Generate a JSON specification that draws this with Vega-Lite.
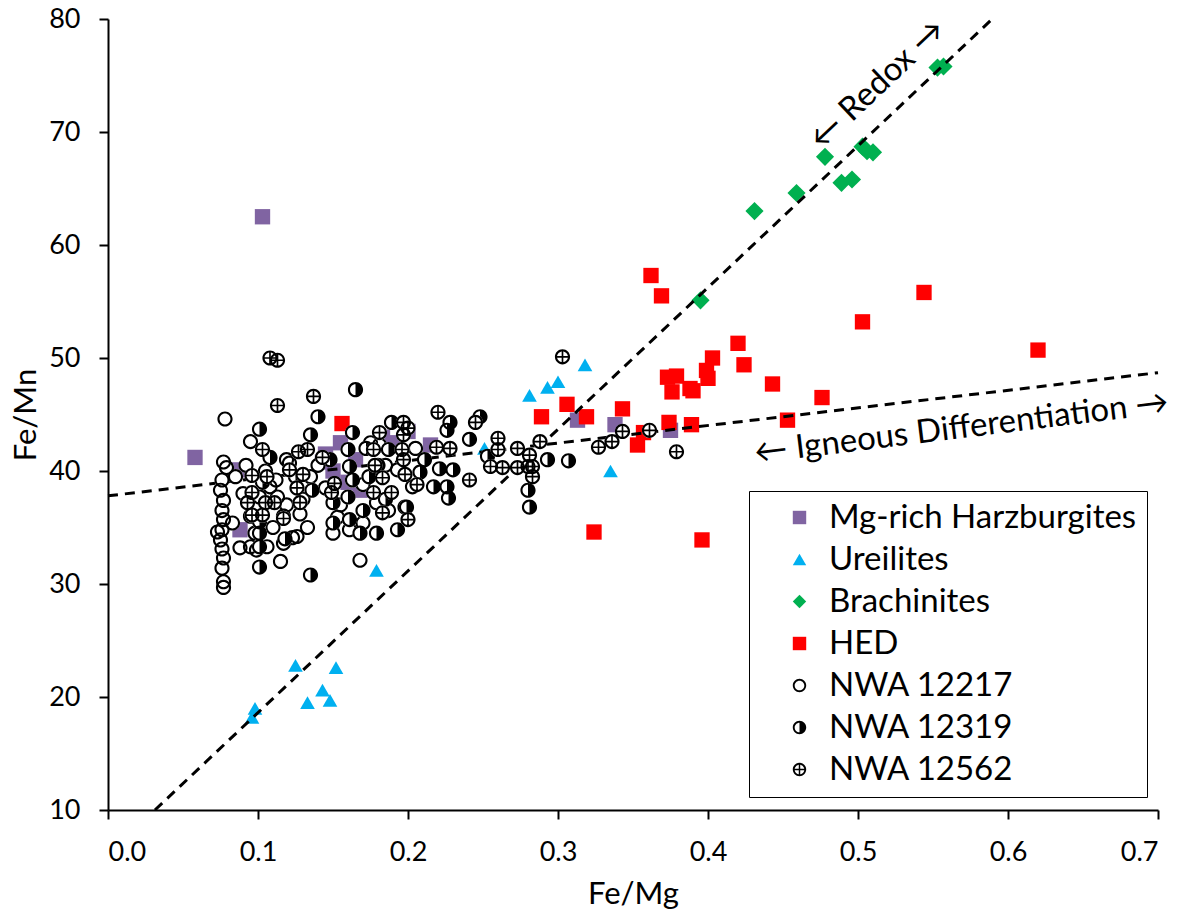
{
  "$schema": "https://vega.github.io/schema/vega-lite/v6.json",
  "width": 1050,
  "height": 791,
  "autosize": {"type": "none"},
  "padding": {"left": 108, "top": 19, "right": 28, "bottom": 108},
  "background": "white",
  "config": {
    "view": {"stroke": null},
    "axis": {
      "grid": false, "domainColor": "black", "domainWidth": 2, "tickColor": "black", "tickWidth": 2, "tickSize": 9,
      "labelFont": "Lato", "labelFontSize": 27, "labelColor": "black",
      "titleFont": "Lato", "titleFontSize": 31, "titleFontWeight": "normal", "titleColor": "black"
    },
    "legend": {
      "labelFont": "Lato", "labelFontSize": 33, "labelColor": "black", "labelLimit": 600, "symbolSize": 180, "symbolStrokeWidth": 0,
      "padding": 10, "rowPadding": 8, "symbolOffset": 24, "labelOffset": 13, "strokeColor": "black", "fillColor": "white"
    }
  },
  "datasets": {
    "pts": [
      {"series":"Mg-rich Harzburgites","x":0.058,"y":41.2},{"series":"Mg-rich Harzburgites","x":0.103,"y":62.5},{"series":"Mg-rich Harzburgites","x":0.087,"y":40.1},{"series":"Mg-rich Harzburgites","x":0.088,"y":34.8},{"series":"Mg-rich Harzburgites","x":0.143,"y":40.8},{"series":"Mg-rich Harzburgites","x":0.145,"y":41.5},{"series":"Mg-rich Harzburgites","x":0.150,"y":40.0},{"series":"Mg-rich Harzburgites","x":0.155,"y":42.5},{"series":"Mg-rich Harzburgites","x":0.160,"y":39.0},{"series":"Mg-rich Harzburgites","x":0.165,"y":41.0},{"series":"Mg-rich Harzburgites","x":0.168,"y":38.3},{"series":"Mg-rich Harzburgites","x":0.183,"y":43.0},{"series":"Mg-rich Harzburgites","x":0.192,"y":42.5},{"series":"Mg-rich Harzburgites","x":0.200,"y":43.5},{"series":"Mg-rich Harzburgites","x":0.215,"y":42.3},{"series":"Mg-rich Harzburgites","x":0.313,"y":44.5},{"series":"Mg-rich Harzburgites","x":0.338,"y":44.1},{"series":"Mg-rich Harzburgites","x":0.375,"y":43.6},
      {"series":"Ureilites","x":0.096,"y":18.2},{"series":"Ureilites","x":0.098,"y":19.0},{"series":"Ureilites","x":0.125,"y":22.8},{"series":"Ureilites","x":0.133,"y":19.5},{"series":"Ureilites","x":0.143,"y":20.6},{"series":"Ureilites","x":0.148,"y":19.7},{"series":"Ureilites","x":0.152,"y":22.6},{"series":"Ureilites","x":0.179,"y":31.2},{"series":"Ureilites","x":0.251,"y":42.0},{"series":"Ureilites","x":0.281,"y":46.7},{"series":"Ureilites","x":0.293,"y":47.4},{"series":"Ureilites","x":0.300,"y":47.9},{"series":"Ureilites","x":0.318,"y":49.4},{"series":"Ureilites","x":0.335,"y":40.0},
      {"series":"Brachinites","x":0.395,"y":55.1},{"series":"Brachinites","x":0.431,"y":63.0},{"series":"Brachinites","x":0.459,"y":64.6},{"series":"Brachinites","x":0.478,"y":67.8},{"series":"Brachinites","x":0.489,"y":65.5},{"series":"Brachinites","x":0.496,"y":65.8},{"series":"Brachinites","x":0.503,"y":68.7},{"series":"Brachinites","x":0.506,"y":68.3},{"series":"Brachinites","x":0.510,"y":68.2},{"series":"Brachinites","x":0.553,"y":75.7},{"series":"Brachinites","x":0.557,"y":75.8},
      {"series":"HED","x":0.156,"y":44.2},{"series":"HED","x":0.362,"y":57.3},{"series":"HED","x":0.369,"y":55.5},{"series":"HED","x":0.289,"y":44.8},{"series":"HED","x":0.306,"y":45.9},{"series":"HED","x":0.319,"y":44.8},{"series":"HED","x":0.324,"y":34.6},{"series":"HED","x":0.343,"y":45.5},{"series":"HED","x":0.353,"y":42.3},{"series":"HED","x":0.357,"y":43.4},{"series":"HED","x":0.373,"y":48.3},{"series":"HED","x":0.374,"y":44.3},{"series":"HED","x":0.376,"y":47.0},{"series":"HED","x":0.379,"y":48.4},{"series":"HED","x":0.388,"y":47.3},{"series":"HED","x":0.390,"y":47.1},{"series":"HED","x":0.389,"y":44.1},{"series":"HED","x":0.396,"y":33.9},{"series":"HED","x":0.399,"y":48.9},{"series":"HED","x":0.400,"y":48.2},{"series":"HED","x":0.403,"y":50.0},{"series":"HED","x":0.420,"y":51.3},{"series":"HED","x":0.424,"y":49.4},{"series":"HED","x":0.443,"y":47.7},{"series":"HED","x":0.453,"y":44.5},{"series":"HED","x":0.476,"y":46.5},{"series":"HED","x":0.503,"y":53.2},{"series":"HED","x":0.544,"y":55.8},{"series":"HED","x":0.620,"y":50.7},
      {"series":"NWA 12217","x":0.078,"y":44.6},{"series":"NWA 12217","x":0.077,"y":29.7},{"series":"NWA 12217","x":0.076,"y":31.4},{"series":"NWA 12217","x":0.077,"y":32.3},{"series":"NWA 12217","x":0.076,"y":33.1},{"series":"NWA 12217","x":0.075,"y":33.9},{"series":"NWA 12217","x":0.076,"y":34.8},{"series":"NWA 12217","x":0.077,"y":35.7},{"series":"NWA 12217","x":0.076,"y":36.5},{"series":"NWA 12217","x":0.077,"y":37.4},{"series":"NWA 12217","x":0.075,"y":38.3},{"series":"NWA 12217","x":0.076,"y":39.2},{"series":"NWA 12217","x":0.079,"y":40.3},{"series":"NWA 12217","x":0.077,"y":40.8},{"series":"NWA 12217","x":0.073,"y":34.6},{"series":"NWA 12217","x":0.077,"y":30.2},{"series":"NWA 12217","x":0.083,"y":35.4},{"series":"NWA 12217","x":0.088,"y":33.2},{"series":"NWA 12217","x":0.095,"y":33.3},{"series":"NWA 12217","x":0.098,"y":34.5},{"series":"NWA 12217","x":0.099,"y":33.0},{"series":"NWA 12217","x":0.106,"y":33.3},{"series":"NWA 12217","x":0.115,"y":32.0},{"series":"NWA 12217","x":0.117,"y":33.6},{"series":"NWA 12217","x":0.123,"y":34.1},{"series":"NWA 12217","x":0.126,"y":34.2},{"series":"NWA 12217","x":0.133,"y":35.0},{"series":"NWA 12217","x":0.119,"y":37.0},{"series":"NWA 12217","x":0.113,"y":37.7},{"series":"NWA 12217","x":0.117,"y":36.0},{"series":"NWA 12217","x":0.121,"y":40.7},{"series":"NWA 12217","x":0.119,"y":41.0},{"series":"NWA 12217","x":0.101,"y":37.7},{"series":"NWA 12217","x":0.108,"y":38.6},{"series":"NWA 12217","x":0.095,"y":42.6},{"series":"NWA 12217","x":0.090,"y":38.0},{"series":"NWA 12217","x":0.085,"y":39.5},{"series":"NWA 12217","x":0.092,"y":40.5},{"series":"NWA 12217","x":0.095,"y":36.0},{"series":"NWA 12217","x":0.168,"y":32.1},{"series":"NWA 12217","x":0.161,"y":34.8},{"series":"NWA 12217","x":0.153,"y":35.9},{"series":"NWA 12217","x":0.170,"y":35.4},{"series":"NWA 12217","x":0.179,"y":37.2},{"series":"NWA 12217","x":0.187,"y":36.5},{"series":"NWA 12217","x":0.203,"y":38.6},{"series":"NWA 12217","x":0.193,"y":40.1},{"series":"NWA 12217","x":0.181,"y":42.3},{"series":"NWA 12217","x":0.140,"y":40.5},{"series":"NWA 12217","x":0.145,"y":38.5},{"series":"NWA 12217","x":0.135,"y":39.5},{"series":"NWA 12217","x":0.155,"y":37.0},{"series":"NWA 12217","x":0.150,"y":34.5},{"series":"NWA 12217","x":0.185,"y":40.5},{"series":"NWA 12217","x":0.175,"y":42.5},{"series":"NWA 12217","x":0.205,"y":42.0},{"series":"NWA 12217","x":0.110,"y":35.0},{"series":"NWA 12217","x":0.130,"y":37.5},{"series":"NWA 12217","x":0.128,"y":36.2},{"series":"NWA 12217","x":0.105,"y":40.0},{"series":"NWA 12217","x":0.112,"y":39.2},{"series":"NWA 12217","x":0.170,"y":38.8},{"series":"NWA 12217","x":0.198,"y":36.8},
      {"series":"NWA 12319","x":0.165,"y":47.2},{"series":"NWA 12319","x":0.163,"y":43.4},{"series":"NWA 12319","x":0.160,"y":41.9},{"series":"NWA 12319","x":0.161,"y":40.4},{"series":"NWA 12319","x":0.163,"y":39.2},{"series":"NWA 12319","x":0.160,"y":37.7},{"series":"NWA 12319","x":0.150,"y":37.2},{"series":"NWA 12319","x":0.150,"y":35.4},{"series":"NWA 12319","x":0.161,"y":35.7},{"series":"NWA 12319","x":0.168,"y":34.5},{"series":"NWA 12319","x":0.179,"y":34.5},{"series":"NWA 12319","x":0.193,"y":34.8},{"series":"NWA 12319","x":0.189,"y":44.3},{"series":"NWA 12319","x":0.187,"y":41.9},{"series":"NWA 12319","x":0.208,"y":39.9},{"series":"NWA 12319","x":0.217,"y":38.6},{"series":"NWA 12319","x":0.199,"y":36.8},{"series":"NWA 12319","x":0.140,"y":44.8},{"series":"NWA 12319","x":0.101,"y":43.7},{"series":"NWA 12319","x":0.135,"y":43.2},{"series":"NWA 12319","x":0.108,"y":41.2},{"series":"NWA 12319","x":0.101,"y":34.5},{"series":"NWA 12319","x":0.101,"y":33.3},{"series":"NWA 12319","x":0.101,"y":31.5},{"series":"NWA 12319","x":0.135,"y":30.8},{"series":"NWA 12319","x":0.136,"y":38.3},{"series":"NWA 12319","x":0.248,"y":44.8},{"series":"NWA 12319","x":0.228,"y":44.3},{"series":"NWA 12319","x":0.226,"y":43.6},{"series":"NWA 12319","x":0.241,"y":42.8},{"series":"NWA 12319","x":0.230,"y":40.1},{"series":"NWA 12319","x":0.226,"y":38.6},{"series":"NWA 12319","x":0.227,"y":37.6},{"series":"NWA 12319","x":0.281,"y":36.8},{"series":"NWA 12319","x":0.280,"y":38.3},{"series":"NWA 12319","x":0.293,"y":41.0},{"series":"NWA 12319","x":0.307,"y":40.9},{"series":"NWA 12319","x":0.253,"y":41.3},{"series":"NWA 12319","x":0.148,"y":41.0},{"series":"NWA 12319","x":0.172,"y":42.0},{"series":"NWA 12319","x":0.174,"y":39.5},{"series":"NWA 12319","x":0.170,"y":36.5},{"series":"NWA 12319","x":0.185,"y":37.5},{"series":"NWA 12319","x":0.180,"y":40.5},{"series":"NWA 12319","x":0.125,"y":39.5},{"series":"NWA 12319","x":0.118,"y":34.0},{"series":"NWA 12319","x":0.101,"y":35.5},{"series":"NWA 12319","x":0.211,"y":41.0},{"series":"NWA 12319","x":0.221,"y":40.2},{"series":"NWA 12319","x":0.103,"y":39.0},
      {"series":"NWA 12562","x":0.108,"y":50.0},{"series":"NWA 12562","x":0.113,"y":49.8},{"series":"NWA 12562","x":0.113,"y":45.8},{"series":"NWA 12562","x":0.137,"y":46.6},{"series":"NWA 12562","x":0.103,"y":41.9},{"series":"NWA 12562","x":0.096,"y":39.6},{"series":"NWA 12562","x":0.106,"y":39.5},{"series":"NWA 12562","x":0.096,"y":38.1},{"series":"NWA 12562","x":0.093,"y":37.2},{"series":"NWA 12562","x":0.105,"y":37.2},{"series":"NWA 12562","x":0.111,"y":37.2},{"series":"NWA 12562","x":0.096,"y":36.1},{"series":"NWA 12562","x":0.103,"y":36.1},{"series":"NWA 12562","x":0.117,"y":35.8},{"series":"NWA 12562","x":0.121,"y":40.1},{"series":"NWA 12562","x":0.126,"y":38.5},{"series":"NWA 12562","x":0.128,"y":37.2},{"series":"NWA 12562","x":0.133,"y":41.9},{"series":"NWA 12562","x":0.127,"y":41.7},{"series":"NWA 12562","x":0.130,"y":39.7},{"series":"NWA 12562","x":0.143,"y":41.2},{"series":"NWA 12562","x":0.151,"y":38.9},{"series":"NWA 12562","x":0.149,"y":38.1},{"series":"NWA 12562","x":0.220,"y":45.2},{"series":"NWA 12562","x":0.197,"y":44.3},{"series":"NWA 12562","x":0.181,"y":43.4},{"series":"NWA 12562","x":0.177,"y":41.9},{"series":"NWA 12562","x":0.197,"y":43.2},{"series":"NWA 12562","x":0.196,"y":41.9},{"series":"NWA 12562","x":0.219,"y":42.1},{"series":"NWA 12562","x":0.197,"y":41.0},{"series":"NWA 12562","x":0.178,"y":40.5},{"series":"NWA 12562","x":0.183,"y":39.4},{"series":"NWA 12562","x":0.198,"y":39.7},{"series":"NWA 12562","x":0.206,"y":38.8},{"series":"NWA 12562","x":0.177,"y":38.1},{"series":"NWA 12562","x":0.189,"y":38.1},{"series":"NWA 12562","x":0.183,"y":36.3},{"series":"NWA 12562","x":0.200,"y":35.7},{"series":"NWA 12562","x":0.245,"y":44.3},{"series":"NWA 12562","x":0.260,"y":42.9},{"series":"NWA 12562","x":0.260,"y":41.9},{"series":"NWA 12562","x":0.255,"y":40.4},{"series":"NWA 12562","x":0.263,"y":40.3},{"series":"NWA 12562","x":0.241,"y":39.2},{"series":"NWA 12562","x":0.228,"y":42.0},{"series":"NWA 12562","x":0.273,"y":42.0},{"series":"NWA 12562","x":0.281,"y":41.4},{"series":"NWA 12562","x":0.288,"y":42.6},{"series":"NWA 12562","x":0.280,"y":40.4},{"series":"NWA 12562","x":0.283,"y":40.4},{"series":"NWA 12562","x":0.283,"y":39.5},{"series":"NWA 12562","x":0.273,"y":40.3},{"series":"NWA 12562","x":0.303,"y":50.1},{"series":"NWA 12562","x":0.327,"y":42.1},{"series":"NWA 12562","x":0.336,"y":42.6},{"series":"NWA 12562","x":0.343,"y":43.5},{"series":"NWA 12562","x":0.361,"y":43.6},{"series":"NWA 12562","x":0.379,"y":41.7},{"series":"NWA 12562","x":0.200,"y":43.8}
    ],
    "lines": [
      {"line":"Redox","x":0.0313,"y":10},{"line":"Redox","x":0.5895,"y":80},
      {"line":"Igneous","x":0.0,"y":37.8},{"line":"Igneous","x":0.7,"y":48.7}
    ]
  },
  "layer": [
    {
      "data": {"name": "pts"},
      "transform": [{"filter": {"field": "series", "oneOf": ["Mg-rich Harzburgites", "Ureilites", "Brachinites", "HED"]}}],
      "mark": {"type": "point", "filled": true, "opacity": 1, "strokeWidth": 0},
      "encoding": {
        "x": {"field": "x", "type": "quantitative", "scale": {"domain": [0, 0.7], "nice": false, "zero": false},
              "axis": {"values": [0, 0.1, 0.2, 0.3, 0.4, 0.5, 0.6, 0.7], "format": ".1f", "title": "Fe/Mg", "labelPadding": 20, "titlePadding": 14}},
        "y": {"field": "y", "type": "quantitative", "scale": {"domain": [10, 80], "nice": false, "zero": false},
              "axis": {"values": [10, 20, 30, 40, 50, 60, 70, 80], "title": "Fe/Mn", "labelPadding": 19, "titlePadding": 6}},
        "size": {"field": "series", "type": "nominal", "legend": null,
                 "scale": {"type": "ordinal", "domain": ["Mg-rich Harzburgites", "Ureilites", "Brachinites", "HED"], "range": [235, 215, 330, 235]}},
        "color": {"field": "series", "type": "nominal",
                  "scale": {"domain": ["Mg-rich Harzburgites", "Ureilites", "Brachinites", "HED", "NWA 12217", "NWA 12319", "NWA 12562"],
                            "range": ["#8064A2", "#00B0F0", "#00B050", "#FF0000", "#000000", "#000000", "#000000"]},
                  "legend": {"title": null, "orient": "none", "legendX": 641, "legendY": 472,
                             "encode": {"legend": {"update": {"strokeWidth": {"value": 2}}}}}},
        "shape": {"field": "series", "type": "nominal",
                  "scale": {"domain": ["Mg-rich Harzburgites", "Ureilites", "Brachinites", "HED", "NWA 12217", "NWA 12319", "NWA 12562"],
                            "range": ["square", "triangle-up", "diamond", "square",
                                      "M1,0A1,1,0,1,1,-1,0A1,1,0,1,1,1,0ZM0.72,0A0.72,0.72,0,1,0,-0.72,0A0.72,0.72,0,1,0,0.72,0Z",
                                      "M1,0A1,1,0,1,1,-1,0A1,1,0,1,1,1,0ZM0.72,0A0.72,0.72,0,1,0,-0.72,0A0.72,0.72,0,1,0,0.72,0ZM0,-0.8A0.8,0.8,0,0,1,0,0.8Z",
                                      "M1,0A1,1,0,1,1,-1,0A1,1,0,1,1,1,0ZM0.72,0A0.72,0.72,0,1,0,-0.72,0A0.72,0.72,0,1,0,0.72,0ZM-0.8,-0.11L0.8,-0.11L0.8,0.11L-0.8,0.11ZM-0.11,-0.8L0.11,-0.8L0.11,0.8L-0.11,0.8Z"]},
                  "legend": {"title": null, "orient": "none", "legendX": 641, "legendY": 472,
                             "encode": {"legend": {"update": {"strokeWidth": {"value": 2}}}}}}
      }
    },
    {
      "data": {"name": "lines"},
      "mark": {"type": "line", "color": "black", "strokeWidth": 3, "strokeDash": [10, 7]},
      "encoding": {
        "x": {"field": "x", "type": "quantitative"},
        "y": {"field": "y", "type": "quantitative"},
        "detail": {"field": "line"}
      }
    },
    {
      "data": {"name": "pts"},
      "transform": [{"filter": {"field": "series", "equal": "NWA 12217"}}],
      "mark": {"type": "point", "shape": "circle", "filled": true, "color": "white", "opacity": 1, "size": 230, "strokeWidth": 0},
      "encoding": {"x": {"field": "x", "type": "quantitative"}, "y": {"field": "y", "type": "quantitative"}}
    },
    {
      "data": {"name": "pts"},
      "transform": [{"filter": {"field": "series", "equal": "NWA 12217"}}],
      "mark": {"type": "point", "filled": true, "opacity": 1, "size": 230, "strokeWidth": 0},
      "encoding": {"x": {"field": "x", "type": "quantitative"}, "y": {"field": "y", "type": "quantitative"},
                   "color": {"field": "series", "type": "nominal"}, "shape": {"field": "series", "type": "nominal"}}
    },
    {
      "data": {"name": "pts"},
      "transform": [{"filter": {"field": "series", "equal": "NWA 12319"}}],
      "mark": {"type": "point", "shape": "circle", "filled": true, "color": "white", "opacity": 1, "size": 230, "strokeWidth": 0},
      "encoding": {"x": {"field": "x", "type": "quantitative"}, "y": {"field": "y", "type": "quantitative"}}
    },
    {
      "data": {"name": "pts"},
      "transform": [{"filter": {"field": "series", "equal": "NWA 12319"}}],
      "mark": {"type": "point", "filled": true, "opacity": 1, "size": 230, "strokeWidth": 0},
      "encoding": {"x": {"field": "x", "type": "quantitative"}, "y": {"field": "y", "type": "quantitative"},
                   "color": {"field": "series", "type": "nominal"}, "shape": {"field": "series", "type": "nominal"}}
    },
    {
      "data": {"name": "pts"},
      "transform": [{"filter": {"field": "series", "equal": "NWA 12562"}}],
      "mark": {"type": "point", "shape": "circle", "filled": true, "color": "white", "opacity": 1, "size": 230, "strokeWidth": 0},
      "encoding": {"x": {"field": "x", "type": "quantitative"}, "y": {"field": "y", "type": "quantitative"}}
    },
    {
      "data": {"name": "pts"},
      "transform": [{"filter": {"field": "series", "equal": "NWA 12562"}}],
      "mark": {"type": "point", "filled": true, "opacity": 1, "size": 230, "strokeWidth": 0},
      "encoding": {"x": {"field": "x", "type": "quantitative"}, "y": {"field": "y", "type": "quantitative"},
                   "color": {"field": "series", "type": "nominal"}, "shape": {"field": "series", "type": "nominal"}}
    },
    {
      "data": {"values": [{"label": "← Redox →", "x": 0.513, "y": 74.2}]},
      "mark": {"type": "text", "font": "Lato", "fontSize": 33, "color": "black", "angle": -43.5, "align": "center", "baseline": "middle"},
      "encoding": {"x": {"field": "x", "type": "quantitative"}, "y": {"field": "y", "type": "quantitative"}, "text": {"field": "label"}}
    },
    {
      "data": {"values": [{"label": "← Igneous Differentiation →", "x": 0.569, "y": 43.8}]},
      "mark": {"type": "text", "font": "Lato", "fontSize": 33, "color": "black", "angle": -7, "align": "center", "baseline": "middle"},
      "encoding": {"x": {"field": "x", "type": "quantitative"}, "y": {"field": "y", "type": "quantitative"}, "text": {"field": "label"}}
    }
  ]
}
